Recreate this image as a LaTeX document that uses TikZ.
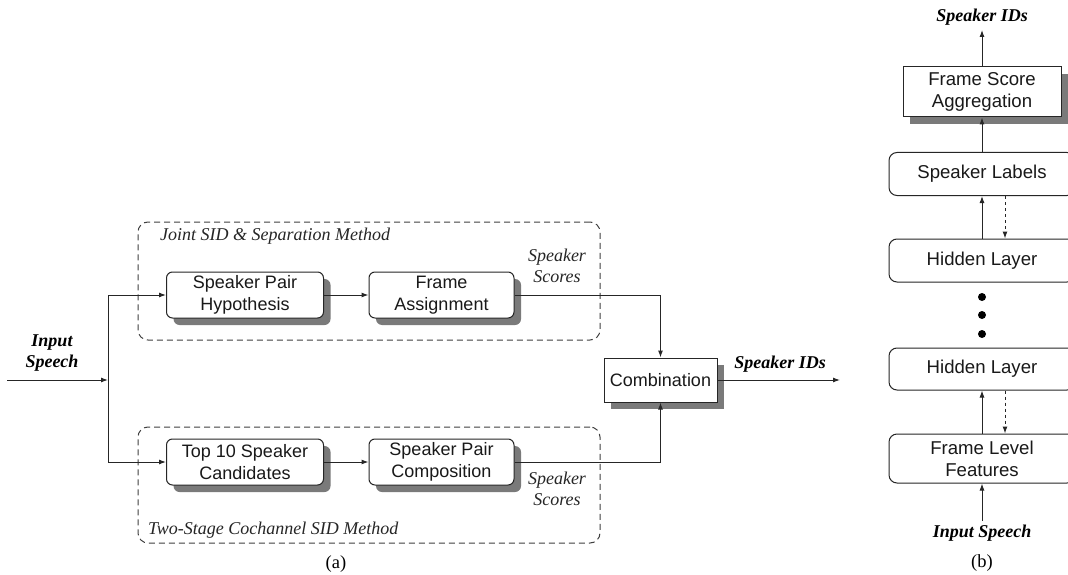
\documentclass[tikz,border=0pt]{standalone}
\usepackage{fontspec}
\setmainfont{Liberation Serif}
\setsansfont{Liberation Sans}
\usetikzlibrary{arrows.meta,shadows}
\begin{document}
\begin{tikzpicture}[x=1pt,y=-1pt,
  every node/.style={inner sep=0pt},
  boxtext/.style={font=\sffamily\fontsize{18}{21.5}\selectfont, align=center, text=black!90},
  boxtextb/.style={font=\sffamily\fontsize{18.6}{22}\selectfont, align=center, text=black!90},
  shbox/.style={draw=black!85, line width=1pt, fill=white,
     drop shadow={shadow xshift=7pt, shadow yshift=-7pt, fill=black!52, opacity=1}},
  rshbox/.style={shbox, boxtext, rounded corners=6pt},
  rbox/.style={boxtextb, draw=black!85, line width=1pt, fill=white, rounded corners=8pt, minimum width=186pt},
  dashbox/.style={draw=black!75, line width=1pt, dash pattern=on 6pt off 4pt, rounded corners=10pt},
  conn/.style={draw=black!85, line width=1pt, -{Latex[length=7pt,width=5pt]}},
  plain/.style={draw=black!85, line width=1pt},
  lbl/.style={font=\itshape\fontsize{18}{21.5}\selectfont, align=center, text=black!85},
  blbl/.style={font=\bfseries\itshape\fontsize{18}{21}\selectfont, align=center},
  captxt/.style={font=\fontsize{18.5}{21.5}\selectfont},
  dotnode/.style={circle, fill=black, minimum size=8pt}
]
\clip (0,0) rectangle (1068,575);
\fill[white] (0,0) rectangle (1068,575);

% ---------- (a) ----------
\node[dashbox, minimum width=462pt, minimum height=118pt] (g1) at (369,281) {};
\node[dashbox, minimum width=462pt, minimum height=116pt] (g2) at (369,485) {};
\node[lbl, anchor=west] (t1) at (160,236) {Joint SID \& Separation Method};
\node[lbl, anchor=west] (t2) at (148,530) {Two-Stage Cochannel SID Method};

\node[rshbox, minimum width=157pt, minimum height=46pt] (sph) at (245,295) {Speaker Pair\\Hypothesis};
\node[rshbox, minimum width=145pt, minimum height=46pt] (fa) at (441.5,295) {Frame\\Assignment};
\node[rshbox, minimum width=157pt, minimum height=46pt] (top) at (245,462) {Top 10 Speaker\\Candidates};
\node[rshbox, minimum width=145pt, minimum height=46pt] (spc) at (441.5,462) {Speaker Pair\\Composition};
\node[shbox, boxtext, minimum width=113pt, minimum height=44pt] (comb) at (660.5,380) {Combination};

\node[lbl] (ss1) at (557,266) {Speaker\\Scores};
\node[lbl] (ss2) at (557,489) {Speaker\\Scores};
\node[blbl] (ins) at (52,353) {Input\\Speech};
\node[blbl] (ids) at (780,364) {Speaker IDs};
\node[captxt] (capa) at (336,564) {(a)};

\coordinate (ina) at (7,380);
\coordinate (j) at (108,380);
\coordinate (outa) at (840,380);
\draw[conn] (ina) -- (j);
\draw[plain] (j) -- (j |- sph.west);
\draw[plain] (j) -- (j |- top.west);
\draw[conn] (j |- sph.west) -- (sph.west);
\draw[conn] (j |- top.west) -- (top.west);
\draw[conn] (sph) -- (fa);
\draw[conn] (top) -- (spc);
\draw[conn] (fa.east) -| (comb.north);
\draw[conn] (spc.east) -| (comb.south);
\draw[conn] (comb.east) -- (outa);

% ---------- (b) ----------
\node[shbox, boxtextb, minimum width=158pt, minimum height=50pt] (fsa) at (982,92) {Frame Score\\Aggregation};
\node[rbox, minimum height=43pt] (sl) at (982,174) {Speaker Labels};
\node[rbox, minimum height=43pt] (hl1) at (982,260.5) {Hidden Layer};
\node[rbox, minimum height=42pt] (hl2) at (982,369) {Hidden Layer};
\node[rbox, minimum height=49pt] (flf) at (982,458.5) {Frame Level\\Features};
\node[dotnode] (d1) at (982,297) {};
\node[dotnode] (d2) at (982,315) {};
\node[dotnode] (d3) at (982,334) {};

\node[blbl] (idsb) at (982,17) {Speaker IDs};
\node[blbl] (insb) at (982,533) {Input Speech};
\node[captxt] (capb) at (982,563) {(b)};

\coordinate (outb) at (982,30);
\coordinate (inb) at (982,521);
\draw[conn] (fsa.north) -- (outb);
\draw[conn] (sl.north) -- (fsa.south);
\draw[conn] (hl1.north) -- (sl.south);
\draw[conn, dashed] ([xshift=23pt]sl.south) -- ([xshift=23pt]hl1.north);
\draw[conn] (flf.north) -- (hl2.south);
\draw[conn, dashed] ([xshift=23pt]hl2.south) -- ([xshift=23pt]flf.north);
\draw[conn] (inb) -- (flf.south);
\end{tikzpicture}
\end{document}
